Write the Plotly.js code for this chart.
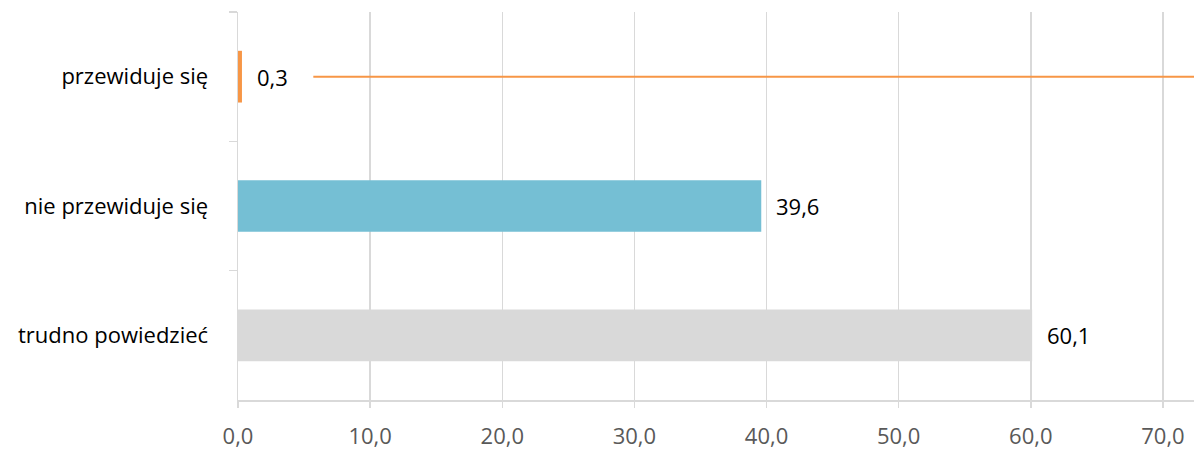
<!DOCTYPE html>
<html>
<head>
<meta charset="utf-8">
<script src="https://cdn.plot.ly/plotly-3.0.1.min.js"></script>
<style>html,body{margin:0;padding:0;background:#fff;}#chart{width:1194px;height:450px;}</style>
</head>
<body>
<div id="chart"></div>
<script>
// Odpowiedzi: czy przewiduje się zmiany (%)
const categories = ['przewiduje się', 'nie przewiduje się', 'trudno powiedzieć'];
const values = [0.3, 39.6, 60.1];
const barColors = ['#F79646', '#75BFD4', '#D9D9D9'];
const xTicks = [0, 10, 20, 30, 40, 50, 60, 70];
// pomarańczowa linia przy pierwszej kategorii
const lineCategory = 'przewiduje się';
const lineFrom = 5.7;
const lineTo = 72.35;

const fmt = v => v.toFixed(1).replace('.', ',');
const FONT = 'Open Sans, sans-serif';
const FS = 22;

const traces = [
  {
    type: 'bar',
    orientation: 'h',
    y: categories,
    x: values,
    width: 0.4,
    marker: { color: barColors },
    hoverinfo: 'skip'
  },
  {
    type: 'scatter',
    mode: 'lines',
    x: [lineFrom, lineTo],
    y: [lineCategory, lineCategory],
    line: { color: '#F79646', width: 2 },
    hoverinfo: 'skip'
  }
];

const annotations = values.map((v, i) => ({
  x: v, y: categories[i], xref: 'x', yref: 'y',
  text: fmt(v), showarrow: false, xanchor: 'left', xshift: 13,
  font: { family: FONT, size: FS, color: '#000' }
}));

const layout = {
  width: 1194, height: 450,
  margin: { l: 238, r: 0, t: 12, b: 50 },
  paper_bgcolor: '#fff', plot_bgcolor: '#fff',
  showlegend: false,
  separators: ', ',
  font: { family: FONT, size: FS, color: '#000' },
  xaxis: {
    range: [0, lineTo],
    tickvals: xTicks,
    tickformat: '.1f',
    showgrid: true, gridcolor: '#D9D9D9', gridwidth: 1.5,
    zeroline: false,
    showline: true, linecolor: '#D9D9D9', linewidth: 1.5,
    ticks: 'outside', ticklen: 6, tickcolor: '#D9D9D9', tickwidth: 1.5,
    ticklabelstandoff: 10,
    tickfont: { family: FONT, size: FS, color: '#595959' },
    fixedrange: true
  },
  yaxis: {
    type: 'category',
    categoryorder: 'array', categoryarray: categories,
    autorange: 'reversed',
    showgrid: false, zeroline: false,
    showline: true, linecolor: '#D9D9D9', linewidth: 1.5,
    ticks: 'outside', tickson: 'boundaries', ticklen: 8, tickcolor: '#D9D9D9', tickwidth: 1.5,
    ticklabelstandoff: 24,
    tickfont: { family: FONT, size: FS, color: '#000' },
    fixedrange: true
  },
  annotations: annotations
};

Plotly.newPlot('chart', traces, layout, { displayModeBar: false, staticPlot: true });
</script>
</body>
</html>
